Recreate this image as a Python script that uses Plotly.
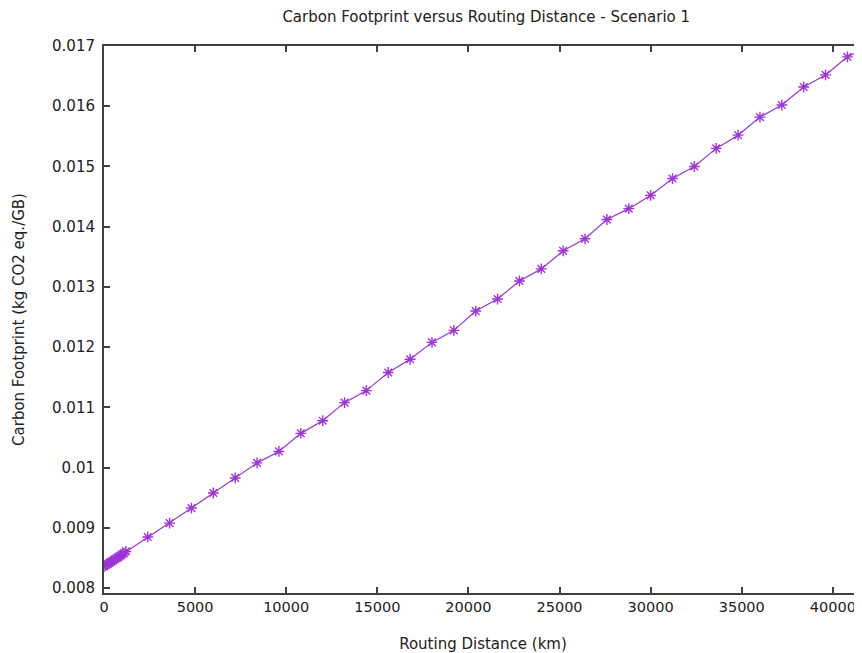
import plotly.graph_objects as go

# Routing distance (km)
distance_km = [0, 100, 200, 300, 400, 500, 600, 700, 800, 900, 1000, 1100, 1200,
               2400, 3600, 4800, 6000, 7200, 8400, 9600, 10800, 12000, 13200,
               14400, 15600, 16800, 18000, 19200, 20400, 21600, 22800, 24000,
               25200, 26400, 27600, 28800, 30000, 31200, 32400, 33600, 34800,
               36000, 37200, 38400, 39600, 40800, 42000]

# Carbon footprint (kg CO2 eq./GB)
footprint = [0.00836, 0.00838, 0.00840, 0.00842, 0.00844, 0.00846, 0.00848,
             0.00850, 0.00852, 0.00854, 0.00856, 0.00858, 0.00861,
             0.00885, 0.00908, 0.00933, 0.00958, 0.00983, 0.01008, 0.01027,
             0.01057, 0.01078, 0.01108, 0.01128, 0.01158, 0.01180, 0.01208,
             0.01228, 0.01260, 0.01280, 0.01310, 0.01330, 0.01360, 0.01380,
             0.01412, 0.01430, 0.01452, 0.01480, 0.01500, 0.01530, 0.01552,
             0.01582, 0.01602, 0.01632, 0.01652, 0.01682, 0.01700]

x_ticks = [0, 5000, 10000, 15000, 20000, 25000, 30000, 35000, 40000]
x_tick_labels = ["0", "5000", "10000", "15000", "20000", "25000", "30000", "35000", "40000"]
y_ticks = [0.008, 0.009, 0.010, 0.011, 0.012, 0.013, 0.014, 0.015, 0.016, 0.017]
y_tick_labels = ["0.008", "0.009", "0.01", "0.011", "0.012", "0.013", "0.014", "0.015", "0.016", "0.017"]

FONT = "DejaVu Sans"
TXT = "#222222"
AX = "#404040"
PURPLE = "#9e34da"

fig = go.Figure()
fig.add_trace(go.Scatter(
    x=distance_km, y=footprint, mode="lines+markers",
    line=dict(color=PURPLE, width=1.2),
    marker=dict(symbol="asterisk-open", size=9, color=PURPLE,
                line=dict(color=PURPLE, width=1.4)),
    showlegend=False, cliponaxis=True,
))

# the page body has an 8px margin, so the figure is sized/offset to compensate
fig.update_layout(
    width=854, height=645,
    margin=dict(l=96, r=0, t=38, b=60, autoexpand=False),
    paper_bgcolor="white", plot_bgcolor="white",
    font=dict(family=FONT, color=TXT),
    title=dict(text="Carbon Footprint versus Routing Distance - Scenario 1",
               x=0.560, xanchor="center", y=0.986, yanchor="middle",
               font=dict(family=FONT, size=15, color=TXT)),
)
fig.update_xaxes(
    range=[0, 41600], tickvals=x_ticks, ticktext=x_tick_labels,
    ticks="inside", ticklen=6, tickwidth=2, tickcolor=AX,
    showline=True, linecolor=AX, linewidth=2, mirror="ticks",
    showgrid=False, zeroline=False, automargin=False,
    tickfont=dict(family=FONT, size=14.5, color=TXT),
    title=dict(text="Routing Distance (km)", standoff=25,
               font=dict(family=FONT, size=15, color=TXT)),
)
fig.update_yaxes(
    range=[0.00792, 0.017], tickvals=y_ticks, ticktext=y_tick_labels,
    ticks="inside", ticklen=6, tickwidth=2, tickcolor=AX,
    showline=True, linecolor=AX, linewidth=2,
    showgrid=False, zeroline=False, automargin=False,
    ticklabelstandoff=4,
    tickfont=dict(family=FONT, size=15, color=TXT),
    title=dict(text="Carbon Footprint (kg CO2 eq./GB)", standoff=24,
               font=dict(family=FONT, size=15, color=TXT)),
)

fig.write_html("out.html")
